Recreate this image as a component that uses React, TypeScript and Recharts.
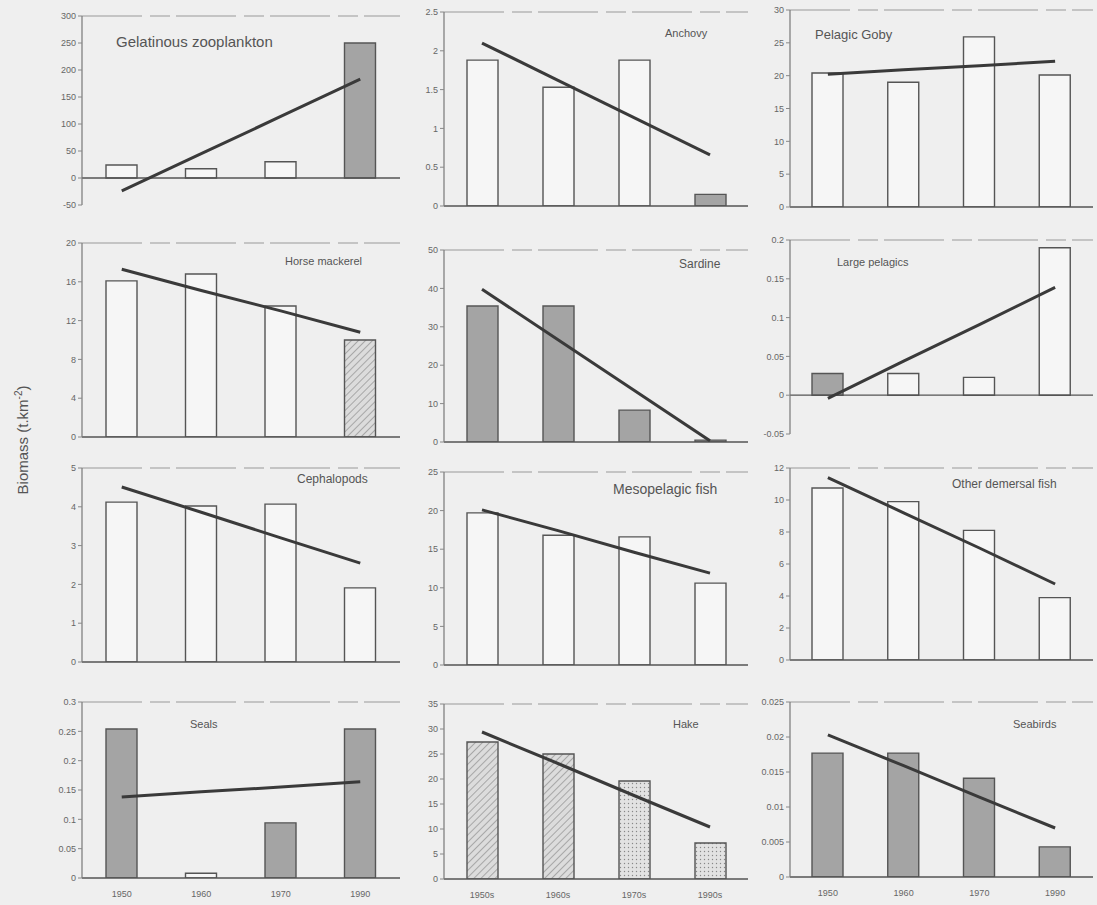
import React from "react";
import {
  ComposedChart,
  Bar,
  Line,
  Cell,
  XAxis,
  YAxis,
  ReferenceLine,
} from "recharts";

// decades shown on the x axis (only the bottom row prints them)
const decades = ["1950", "1960", "1970", "1990"];
const hakeDecades = ["1950s", "1960s", "1970s", "1990s"];

// biomass per decade + fitted trend, one block per group
const gelatinous = [24, 17, 30, 250];
const gelatinousTrend = [-24, 45, 114, 183];
const gelatinousTicks = [-50, 0, 50, 100, 150, 200, 250, 300];

const anchovy = [1.88, 1.53, 1.88, 0.15];
const anchovyTrend = [2.1, 1.62, 1.14, 0.66];
const anchovyTicks = [0, 0.5, 1, 1.5, 2, 2.5];

const goby = [20.4, 19.0, 25.9, 20.1];
const gobyTrend = [20.2, 20.9, 21.5, 22.2];
const gobyTicks = [0, 5, 10, 15, 20, 25, 30];

const horseMackerel = [16.1, 16.8, 13.5, 10.0];
const horseMackerelTrend = [17.3, 15.1, 13.0, 10.8];
const horseMackerelTicks = [0, 4, 8, 12, 16, 20];

const sardine = [35.4, 35.4, 8.3, 0.5];
const sardineTrend = [39.8, 26.6, 13.5, 0.3];
const sardineTicks = [0, 10, 20, 30, 40, 50];

const largePelagics = [0.028, 0.028, 0.023, 0.19];
const largePelagicsTrend = [-0.004, 0.044, 0.091, 0.139];
const largePelagicsTicks = [-0.05, 0, 0.05, 0.1, 0.15, 0.2];

const cephalopods = [4.12, 4.02, 4.07, 1.91];
const cephalopodsTrend = [4.51, 3.86, 3.2, 2.55];
const cephalopodsTicks = [0, 1, 2, 3, 4, 5];

const mesopelagic = [19.7, 16.8, 16.6, 10.6];
const mesopelagicTrend = [20.1, 17.4, 14.6, 11.9];
const mesopelagicTicks = [0, 5, 10, 15, 20, 25];

const otherDemersal = [10.75, 9.9, 8.1, 3.9];
const otherDemersalTrend = [11.4, 9.2, 7.0, 4.75];
const otherDemersalTicks = [0, 2, 4, 6, 8, 10, 12];

const seals = [0.254, 0.008, 0.094, 0.254];
const sealsTrend = [0.138, 0.147, 0.155, 0.164];
const sealsTicks = [0, 0.05, 0.1, 0.15, 0.2, 0.25, 0.3];

const hake = [27.4, 25.0, 19.6, 7.2];
const hakeTrend = [29.4, 23.1, 16.7, 10.4];
const hakeTicks = [0, 5, 10, 15, 20, 25, 30, 35];

const seabirds = [0.0177, 0.0177, 0.0141, 0.0043];
const seabirdsTrend = [0.0203, 0.0159, 0.0114, 0.007];
const seabirdsTicks = [0, 0.005, 0.01, 0.015, 0.02, 0.025];

// w = open bar, g = grey, h = hatched, d = dotted
const panels = [
  { key: "gel", title: "Gelatinous zooplankton", cats: decades, values: gelatinous, trend: gelatinousTrend, ticks: gelatinousTicks, fills: ["w", "w", "w", "g"], box: [82, 16, 400, 205], label: [116, 33, 15] },
  { key: "anc", title: "Anchovy", cats: decades, values: anchovy, trend: anchovyTrend, ticks: anchovyTicks, fills: ["w", "w", "w", "g"], box: [444, 12, 748, 206], label: [665, 27, 11] },
  { key: "gob", title: "Pelagic Goby", cats: decades, values: goby, trend: gobyTrend, ticks: gobyTicks, fills: ["w", "w", "w", "w"], box: [790, 10, 1093, 207], label: [815, 27, 13] },
  { key: "hm", title: "Horse mackerel", cats: decades, values: horseMackerel, trend: horseMackerelTrend, ticks: horseMackerelTicks, fills: ["w", "w", "w", "h"], box: [82, 243, 400, 437], label: [285, 255, 11] },
  { key: "sar", title: "Sardine", cats: decades, values: sardine, trend: sardineTrend, ticks: sardineTicks, fills: ["g", "g", "g", "g"], box: [444, 250, 748, 442], label: [679, 257, 12] },
  { key: "lp", title: "Large pelagics", cats: decades, values: largePelagics, trend: largePelagicsTrend, ticks: largePelagicsTicks, fills: ["g", "w", "w", "w"], box: [790, 240, 1093, 434], label: [837, 256, 11] },
  { key: "cep", title: "Cephalopods", cats: decades, values: cephalopods, trend: cephalopodsTrend, ticks: cephalopodsTicks, fills: ["w", "w", "w", "w"], box: [82, 468, 400, 662], label: [297, 472, 12] },
  { key: "mes", title: "Mesopelagic fish", cats: decades, values: mesopelagic, trend: mesopelagicTrend, ticks: mesopelagicTicks, fills: ["w", "w", "w", "w"], box: [444, 472, 748, 665], label: [613, 481, 14] },
  { key: "od", title: "Other demersal fish", cats: decades, values: otherDemersal, trend: otherDemersalTrend, ticks: otherDemersalTicks, fills: ["w", "w", "w", "w"], box: [790, 468, 1093, 660], label: [952, 477, 12] },
  { key: "sea", title: "Seals", cats: decades, values: seals, trend: sealsTrend, ticks: sealsTicks, fills: ["g", "w", "g", "g"], box: [82, 702, 400, 878], label: [190, 718, 11] },
  { key: "hak", title: "Hake", cats: hakeDecades, values: hake, trend: hakeTrend, ticks: hakeTicks, fills: ["h", "h", "d", "d"], box: [444, 704, 748, 879], label: [673, 718, 11] },
  { key: "sb", title: "Seabirds", cats: decades, values: seabirds, trend: seabirdsTrend, ticks: seabirdsTicks, fills: ["g", "g", "g", "g"], box: [790, 702, 1093, 877], label: [1013, 718, 11] },
];

const FONT = "'Liberation Sans', Arial, sans-serif";
const Y_W = 45;
const X_H = 26;
const TOP = 6;
const RIGHT = 4;

const fillFor = (code: string, key: string) => {
  if (code === "g") return "#a4a4a4";
  if (code === "h") return `url(#hatch-${key})`;
  if (code === "d") return `url(#dots-${key})`;
  return "#f6f6f6";
};

const Panel = ({ p, showX }: { p: (typeof panels)[number]; showX: boolean }) => {
  const [l, t, r, b] = p.box;
  const data = p.cats.map((c, i) => ({ cat: c, value: p.values[i], trend: p.trend[i] }));
  const lo = p.ticks[0];
  const hi = p.ticks[p.ticks.length - 1];
  const w = r - l + Y_W + RIGHT;
  const h = b - t + TOP + X_H;
  return (
    <div style={{ position: "absolute", left: l - Y_W, top: t - TOP, width: w, height: h }}>
      <ComposedChart
        width={w}
        height={h}
        data={data}
        margin={{ top: TOP, right: RIGHT, left: 0, bottom: 0 }}
        barCategoryGap="30%"
      >
        <defs>
          <pattern id={`hatch-${p.key}`} width="5" height="5" patternUnits="userSpaceOnUse" patternTransform="rotate(45)">
            <rect width="5" height="5" fill="#dcdcdc" />
            <line x1="0" y1="0" x2="0" y2="5" stroke="#8a8a8a" strokeWidth="1.3" />
          </pattern>
          <pattern id={`dots-${p.key}`} width="4" height="4" patternUnits="userSpaceOnUse">
            <rect width="4" height="4" fill="#e2e2e2" />
            <circle cx="1.5" cy="1.5" r="0.7" fill="#888" />
          </pattern>
        </defs>
        <XAxis
          dataKey="cat"
          height={X_H}
          axisLine={false}
          tickLine={false}
          tick={showX ? { fontSize: 9, fill: "#666", fontFamily: FONT, dy: 5 } : false}
          interval={0}
        />
        <YAxis
          type="number"
          width={Y_W}
          domain={[lo, hi]}
          ticks={p.ticks}
          interval={0}
          allowDataOverflow
          axisLine={{ stroke: "#777", strokeWidth: 1.2 }}
          tickLine={{ stroke: "#888" }}
          tickSize={4}
          tick={{ fontSize: 9, fill: "#666", fontFamily: FONT }}
        />
        <ReferenceLine y={hi} stroke="#999" strokeWidth={1.2} strokeDasharray="60 8 20 6" />
        <Bar dataKey="value" barSize={31} stroke="#555" strokeWidth={1.4} isAnimationActive={false}>
          {data.map((d, i) => (
            <Cell key={`c-${i}`} fill={fillFor(p.fills[i], p.key)} />
          ))}
        </Bar>
        <ReferenceLine y={0} stroke="#555" strokeWidth={1.3} />
        <Line
          dataKey="trend"
          type="linear"
          stroke="#3a3a3a"
          strokeWidth={3}
          dot={false}
          isAnimationActive={false}
        />
      </ComposedChart>
      <div
        style={{
          position: "absolute",
          left: p.label[0] - (l - Y_W),
          top: p.label[1] - (t - TOP),
          fontSize: p.label[2],
          fontFamily: FONT,
          color: "#555",
          whiteSpace: "nowrap",
        }}
      >
        {p.title}
      </div>
    </div>
  );
};

export default function App() {
  return (
    <div
      style={{
        position: "absolute",
        left: 0,
        top: 0,
        width: 1097,
        height: 905,
        background: "#efefef",
        overflow: "hidden",
      }}
    >
      {panels.map((p, i) => (
        <Panel key={p.key} p={p} showX={i >= 9} />
      ))}
      <div
        style={{
          position: "absolute",
          left: 22,
          top: 440,
          transform: "translate(-50%, -50%) rotate(-90deg)",
          fontFamily: FONT,
          fontSize: 15,
          color: "#555",
          whiteSpace: "nowrap",
        }}
      >
        Biomass (t.km<sup style={{ fontSize: 10 }}>-2</sup>)
      </div>
    </div>
  );
}
